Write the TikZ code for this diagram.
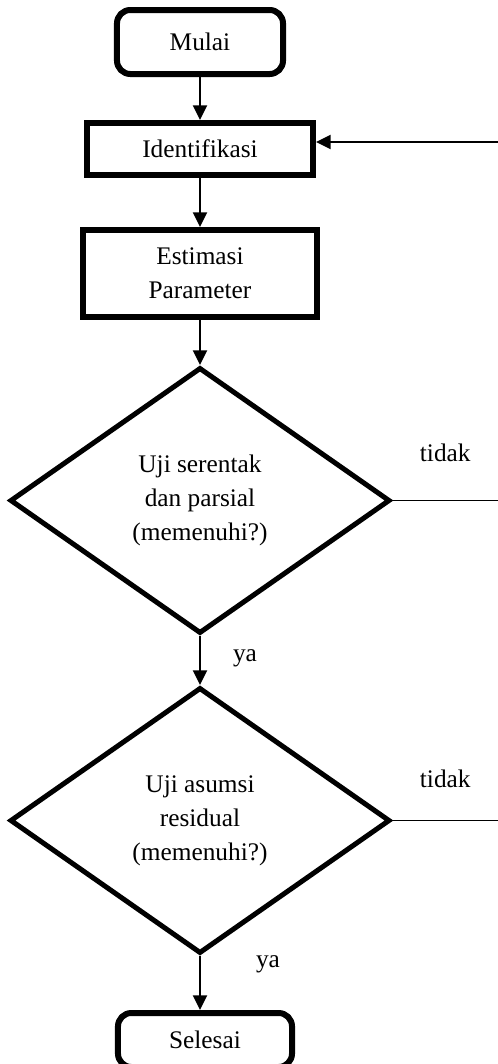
\documentclass[tikz,border=0pt]{standalone}
\usepackage{fontspec}
\setmainfont{Liberation Serif}
\usetikzlibrary{shapes.geometric,arrows.meta,positioning}

\begin{document}
\begin{tikzpicture}[
  term/.style={rectangle, draw, line width=4.5pt, rounded corners=10pt,
               minimum width=124.5pt, minimum height=48pt, align=center},
  proc/.style={rectangle, draw, line width=4.5pt, align=center},
  dec/.style={diamond, draw, line width=3.75pt, minimum width=285pt,
              minimum height=199.5pt, inner sep=0pt, align=center},
  flow/.style={-{Triangle[length=11pt,width=10.5pt]}, line width=1.5pt},
  back/.style={line width=1.2pt},
  lbl/.style={inner sep=0pt},
  font=\fontsize{19}{25.5}\selectfont
]
  \useasboundingbox (-150pt,31.5pt) rectangle (223.5pt,-766.5pt);

  % Main column
  \node[term] (mulai) at (0,0) {Mulai};
  \node[proc, below=32.25pt of mulai, minimum width=169.5pt, minimum height=39pt] (ident) {Identifikasi};
  \node[proc, below=36.75pt of ident, minimum width=174.75pt, minimum height=65.25pt] (estim) {Estimasi\\Parameter};
  \node[dec, below=33.75pt of estim] (uji1) {Uji serentak\\dan parsial\\(memenuhi?)};
  \node[dec, below=36.75pt of uji1] (uji2) {Uji asumsi\\residual\\(memenuhi?)};
  \node[term, below=40.5pt of uji2, xshift=3.75pt, minimum width=130.5pt, minimum height=40.5pt] (selesai) {Selesai};

  % Right edge (loop back goes off the page)
  \coordinate (edge) at (223.5pt,0);
  \coordinate (r0) at (edge |- ident.east);

  % Flow
  \draw[flow] (mulai) -- (ident);
  \draw[flow] (ident) -- (estim);
  \draw[flow] (estim) -- (uji1);
  \draw[flow] (uji1) -- node[lbl, xshift=33.75pt, yshift=2pt]{ya} (uji2);
  \draw[flow] (uji2) -- node[lbl, xshift=51pt, yshift=14.25pt]{ya} (uji2 |- selesai.north);

  % Back to identification
  \draw[flow] ([yshift=5.25pt]r0) -- ([yshift=5.25pt]ident.east);
  \draw[back] (uji1.east) -- node[lbl, yshift=36pt]{tidak} (uji1.east -| edge);
  \draw[back] (uji2.east) -- node[lbl, yshift=31pt]{tidak} (uji2.east -| edge);
\end{tikzpicture}
\end{document}
